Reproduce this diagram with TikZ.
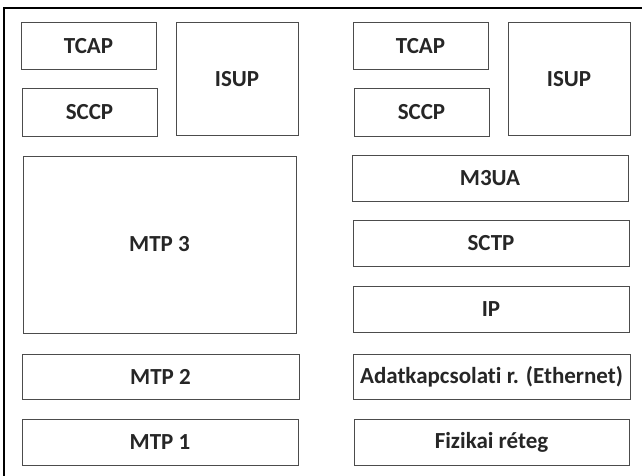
\documentclass[tikz,border=0pt]{standalone}
\usepackage{fontspec}
\setmainfont[Ligatures={NoCommon}]{Carlito}
\begin{document}
\begin{tikzpicture}[x=1pt,y=-1pt,
  layer/.style={draw=black!70, line width=1pt, rectangle, inner sep=0pt,
    font=\fontsize{23}{26}\selectfont\bfseries, text=black!85},
  frame/.style={draw=black, line width=1.3pt}]
\useasboundingbox (0,0) rectangle (642,476);
% outer frame (left and top edges)
\draw[frame] (4,476) -- (4,8) -- (642,8);
% SS7 stack
\node[layer, minimum width=135, minimum height=47] (tcapL) at (88.5,46.5) {TCAP};
\node[layer, minimum width=135, minimum height=47] (sccpL) at (89.5,112.5) {SCCP};
\node[layer, minimum width=122, minimum height=112] (isupL) at (237,79) {ISUP};
\node[layer, minimum width=273, minimum height=177] (mtp3) at (159.5,244.5) {MTP 3};
\node[layer, minimum width=277, minimum height=45] (mtp2) at (160.5,376.5) {MTP 2};
\node[layer, minimum width=276, minimum height=46] (mtp1) at (160,442) {MTP 1};
% SIGTRAN stack
\node[layer, minimum width=135, minimum height=47] (tcapR) at (420.5,46.5) {TCAP};
\node[layer, minimum width=135, minimum height=47] (sccpR) at (421.5,112.5) {SCCP};
\node[layer, minimum width=122, minimum height=112] (isupR) at (569,79) {ISUP};
\node[layer, minimum width=276, minimum height=46] (m3ua) at (490,178) {M3UA};
\node[layer, minimum width=276, minimum height=46] (sctp) at (491,243) {SCTP};
\node[layer, minimum width=276, minimum height=46] (ip) at (491,309) {IP};
\node[layer, minimum width=277, minimum height=45] (adat) at (491.5,376.5) {Adatkapcsolati r. (Ethernet)};
\node[layer, minimum width=275, minimum height=46] (fiz) at (491.5,442) {Fizikai réteg};
\end{tikzpicture}
\end{document}
